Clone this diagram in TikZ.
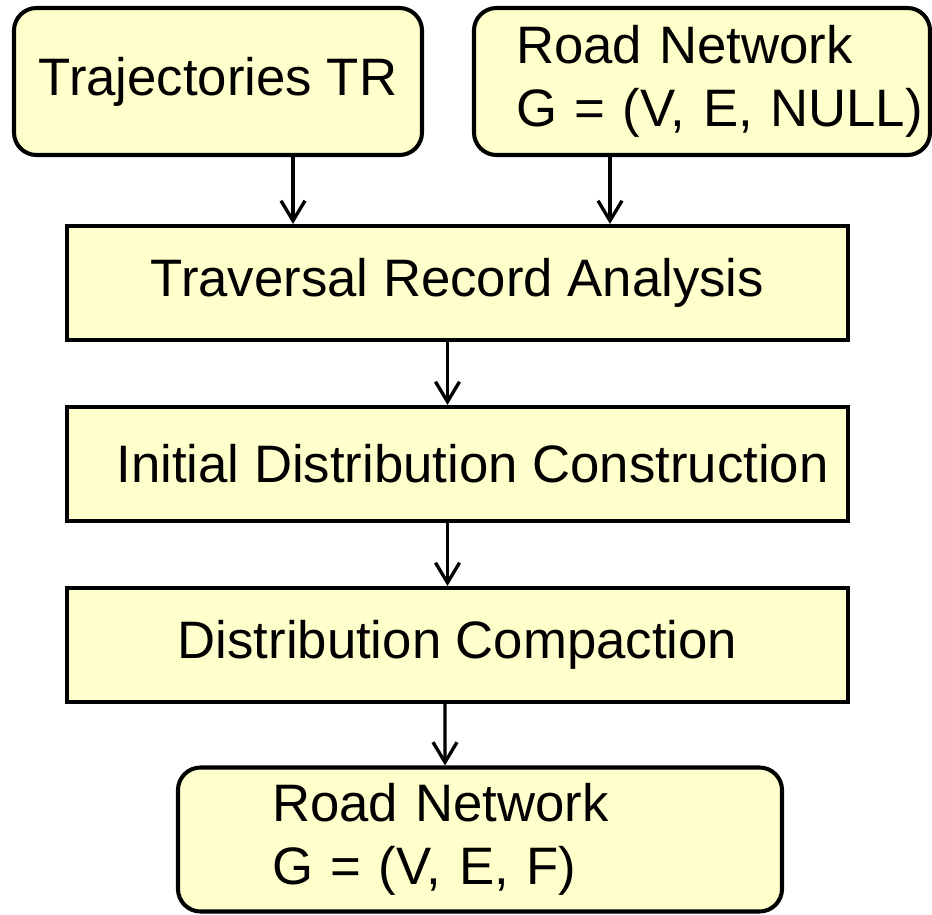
\documentclass[tikz,border=0pt]{standalone}
\usepackage{fontspec}
\setmainfont{Liberation Sans}
\usetikzlibrary{arrows.meta}
\definecolor{paleyel}{HTML}{FFFFCC}
\tikzstyle{proc}=[draw, fill=paleyel, line width=2.3pt, 
    text centered, minimum width=15.62cm, minimum height=2.28cm,
    font=\fontsize{30}{36}\selectfont]
\tikzstyle{io}=[proc, rounded corners=0.45cm,
    minimum width=0pt, minimum height=2.94cm]
\def\blockdist{3.62}

\begin{document}
\begin{tikzpicture}[>={Straight Barb[length=0.4cm,width=0.48cm]}, line width=1.9pt]
    \useasboundingbox (0,0) rectangle (18.64,-18.3);
    \node (tra) [proc] at (9.15,-5.66) {Traversal Record Analysis};
    \path (tra)+(-4.79,4.03) node (traj) [io, minimum width=8.16cm] {Trajectories TR};
    \path (tra)+(4.89,4.03) node (rn) [io, align=left, text width=7.44cm,
    inner xsep=0.84cm] {Road Network\\G~=~(V,~E,~NULL)};
    \path (tra)+(0,-\blockdist) node (idc) [proc] {\hspace*{0.6cm}Initial Distribution Construction};
    \path (idc)+(0,-\blockdist) node (dc) [proc] {Distribution Compaction};
    \path (dc)+(0.45,-3.89) node (rnf) [io, align=left, text width=8.32cm,
    inner xsep=1.88cm, minimum height=2.88cm] {Road Network\\G = (V, E, F)};
    % inputs
    \draw[->] ([xshift=1.5cm]traj.south) -- ([xshift=1.5cm]traj.south |- tra.north);
    \draw[->] ([xshift=-1.84cm]rn.south) -- ([xshift=-1.84cm]rn.south |- tra.north);
    % pipeline
    \draw[->] ([xshift=-0.2cm]tra.south) -- ([xshift=-0.2cm]idc.north);
    \draw[->] ([xshift=-0.2cm]idc.south) -- ([xshift=-0.2cm]dc.north);
    \draw[->] ([xshift=-0.25cm]dc.south) -- ([xshift=-0.7cm]rnf.north);
\end{tikzpicture}
\end{document}
